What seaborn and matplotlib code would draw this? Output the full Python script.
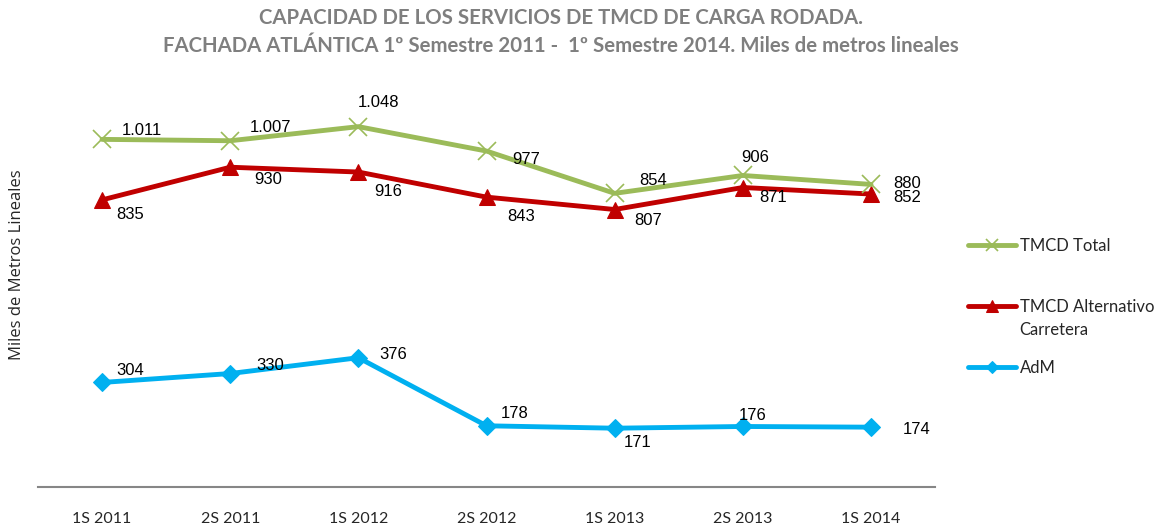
import matplotlib
matplotlib.use("Agg")
import matplotlib.pyplot as plt
from matplotlib.lines import Line2D
import seaborn as sns
import pandas as pd

periods = ["1S 2011", "2S 2011", "1S 2012", "2S 2012", "1S 2013", "2S 2013", "1S 2014"]
tmcd_total = [1011, 1007, 1048, 977, 854, 906, 880]
tmcd_alt = [835, 930, 916, 843, 807, 871, 852]
adm = [304, 330, 376, 178, 171, 176, 174]

total_labels = ["1.011", "1.007", "1.048", "977", "854", "906", "880"]
alt_labels = [str(v) for v in tmcd_alt]
adm_labels = [str(v) for v in adm]

sns.set_theme(style="white")
plt.rcParams['font.family'] = ['Lato', 'DejaVu Sans']

W, H = 1161, 529
fig = plt.figure(figsize=(W / 100, H / 100), dpi=100)
ax = fig.add_axes([0.0327, 0.0794, 0.7727, 0.78])

pos = list(range(len(periods)))
df = pd.DataFrame({"pos": pos, "total": tmcd_total, "alt": tmcd_alt, "adm": adm})

GREEN = "#9BBB59"
RED = "#C00000"
BLUE = "#00B0F0"

sns.lineplot(data=df, x="pos", y="adm", ax=ax, color=BLUE, linewidth=3.5,
             marker="D", markersize=9, markeredgecolor=BLUE, label="AdM", legend=False)
sns.lineplot(data=df, x="pos", y="alt", ax=ax, color=RED, linewidth=3.5,
             marker="^", markersize=12, markeredgecolor=RED, label="TMCD Alternativo", legend=False)
sns.lineplot(data=df, x="pos", y="total", ax=ax, color=GREEN, linewidth=3.5,
             marker="x", markersize=13, markeredgewidth=1.2, markeredgecolor=GREEN,
             label="TMCD Total", legend=False)

ax.set_xlim(-0.5, 6.5)
ax.set_ylim(0, 1200)
ax.set_xticks(pos)
ax.set_xticklabels(periods, fontsize=11.5)
ax.tick_params(axis="x", length=0, pad=18)
ax.set_yticks([])
ax.set_xlabel("")
ax.set_ylabel("Miles de Metros Lineales", fontsize=12,
              family=['Open Sans', 'DejaVu Sans'])
ax.yaxis.set_label_coords(-0.014, 0.539)
for s in ["top", "right", "left"]:
    ax.spines[s].set_visible(False)
ax.spines["bottom"].set_color("#868686")
ax.spines["bottom"].set_linewidth(1.5)

lab_font = dict(fontsize=12, family=['Liberation Sans', 'DejaVu Sans'], color="black")

total_off = [(40, 9), (40, 13), (20, 24), (40, -8), (38, 13), (12, 18), (36, 1)]
alt_off = [(28, -15), (38, -12), (30, -19), (35, -19), (33, -11), (30, -10), (36, -3)]
adm_off = [(28, 12), (40, 8), (35, 3), (28, 12), (23, -14), (10, 11), (46, -2)]

for i in pos:
    ax.annotate(total_labels[i], (pos[i], tmcd_total[i]), xytext=total_off[i],
                textcoords="offset pixels", ha="center", va="center", **lab_font)
    ax.annotate(alt_labels[i], (pos[i], tmcd_alt[i]), xytext=alt_off[i],
                textcoords="offset pixels", ha="center", va="center", **lab_font)
    ax.annotate(adm_labels[i], (pos[i], adm[i]), xytext=adm_off[i],
                textcoords="offset pixels", ha="center", va="center", **lab_font)

handles, labels = ax.get_legend_handles_labels()
hmap = dict(zip(labels, handles))
blank = Line2D([], [], linestyle="none", marker=None)

leg_kw = dict(frameon=False, fontsize=12, handlelength=2.9, handletextpad=0.2,
              markerscale=0.7, borderaxespad=0, borderpad=0)
LX = 968 / W
fig.legend([hmap["TMCD Total"]], ["TMCD Total"], loc="center left",
           bbox_to_anchor=(LX, 1 - 246 / H), **leg_kw)
fig.legend([hmap["TMCD Alternativo"], blank], ["TMCD Alternativo", "Carretera"],
           loc="upper left", bbox_to_anchor=(LX, 1 - 299 / H), labelspacing=0.42, **leg_kw)
fig.legend([hmap["AdM"]], ["AdM"], loc="center left",
           bbox_to_anchor=(LX, 1 - 368 / H), **leg_kw)

fig.suptitle("CAPACIDAD DE LOS SERVICIOS DE TMCD DE CARGA RODADA.\n"
             "FACHADA ATLÁNTICA 1º Semestre 2011 -  1º Semestre 2014. Miles de metros lineales",
             x=0.483, y=0.985, fontsize=14.7, fontweight="bold", color="#7F7F7F",
             linespacing=1.5, family=['Lato', 'DejaVu Sans'])

fig.savefig("out.png", dpi=100)
